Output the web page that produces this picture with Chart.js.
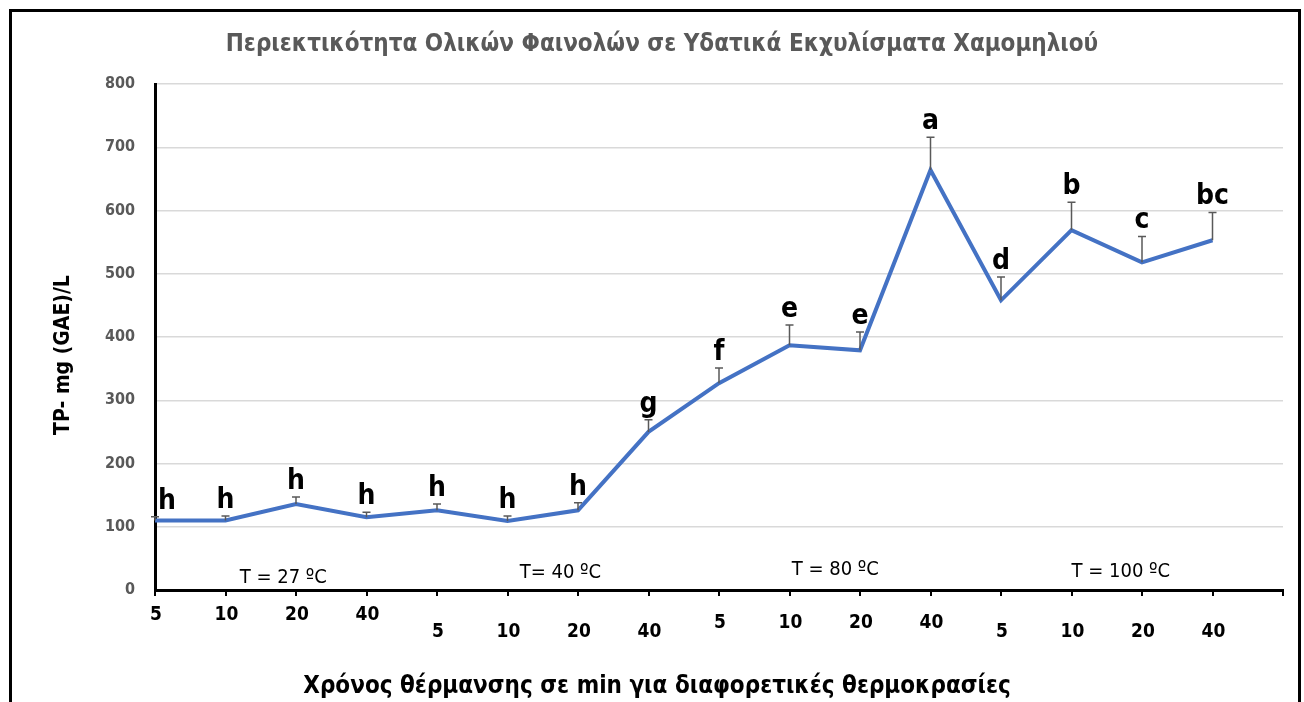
<!DOCTYPE html>
<html>
<head>
<meta charset="utf-8">
<script src="https://cdn.jsdelivr.net/npm/chart.js@4.4.1/dist/chart.umd.min.js"></script>
<style>
  html, body { margin: 0; padding: 0; background: #fff; }
</style>
</head>
<body>
<canvas id="grafico" width="1304" height="702"></canvas>
<script>
// --- Datos ---
const tiempos = ['5', '10', '20', '40', '5', '10', '20', '40', '5', '10', '20', '40', '5', '10', '20', '40', ''];
const fenoles = [110, 110, 136, 115, 126, 109, 126, 250, 327, 387, 379, 664, 458, 569, 518, 553];
const errores = [6, 7, 11, 8, 10, 8, 12, 19, 24, 32, 29, 52, 37, 44, 41, 44];
const letras = ['h', 'h', 'h', 'h', 'h', 'h', 'h', 'g', 'f', 'e', 'e', 'a', 'd', 'b', 'c', 'bc'];
const temperaturas = ['T = 27 ºC', 'T= 40 ºC', 'T = 80 ºC', 'T = 100 ºC'];
const temperaturasX = [1.82, 5.75, 9.65, 13.7];
const temperaturasY = [20, 27, 32, 29];
const ticksY = [0, 100, 200, 300, 400, 500, 600, 700, 800];

const titulo = 'Περιεκτικότητα Ολικών Φαινολών σε Υδατικά Εκχυλίσματα Χαμομηλιού';
const tituloX = 'Χρόνος θέρμανσης σε min για διαφορετικές θερμοκρασίες';
const tituloY = 'TP- mg (GAE)/L';

const fuente = "'DejaVu Sans Condensed', 'DejaVu Sans', sans-serif";
Chart.defaults.font.family = fuente;

// altura de cada grupo de etiquetas del eje X (escalonadas como en el original)
const alturaGrupo = [615, 632, 623, 632];

const extras = {
    id: 'extras',
    beforeDraw(chart) {
        const c = chart.ctx;
        c.save();
        c.fillStyle = '#fff';
        c.fillRect(0, 0, chart.width, chart.height);
        c.restore();
    },
    afterDatasetsDraw(chart) {
        const c = chart.ctx;
        const x = chart.scales.x;
        const y = chart.scales.y;
        c.save();

        // barras de error (solo hacia arriba)
        c.strokeStyle = '#595959';
        c.lineWidth = 1.5;
        fenoles.forEach((v, i) => {
            const px = x.getPixelForValue(i);
            const y0 = y.getPixelForValue(v);
            const y1 = y.getPixelForValue(v + errores[i]);
            c.beginPath();
            c.moveTo(px, y0);
            c.lineTo(px, y1);
            c.moveTo(px - 4, y1);
            c.lineTo(px + 4, y1);
            c.stroke();
        });

        // letras de significancia
        c.fillStyle = '#000';
        c.font = 'bold 28px ' + fuente;
        c.textAlign = 'center';
        c.textBaseline = 'alphabetic';
        letras.forEach((l, i) => {
            let px = x.getPixelForValue(i);
            if (i === 0) px += 12;
            const py = y.getPixelForValue(fenoles[i] + errores[i]) - 8;
            c.fillText(l, px, py);
        });

        // temperaturas
        c.font = '20px ' + fuente;
        c.textBaseline = 'middle';
        temperaturas.forEach((t, i) => {
            c.fillText(t, x.getPixelForValue(temperaturasX[i]), y.getPixelForValue(temperaturasY[i]));
        });

        // etiquetas del eje X
        c.font = 'bold 19px ' + fuente;
        tiempos.forEach((t, i) => {
            if (!t) return;
            c.fillText(t, x.getPixelForValue(i) + 1, alturaGrupo[Math.floor(i / 4)]);
        });

        // títulos
        c.font = 'bold 24px ' + fuente;
        c.fillText(tituloX, 657, 687);

        c.fillStyle = '#595959';
        c.font = 'bold 24px ' + fuente;
        c.fillText(titulo, 662, 45);

        c.fillStyle = '#000';
        c.font = 'bold 21px ' + fuente;
        c.translate(64, 355);
        c.rotate(-Math.PI / 2);
        c.fillText(tituloY, 0, 0);
        c.restore();

        // marco
        c.save();
        c.strokeStyle = '#000';
        c.lineWidth = 3;
        c.strokeRect(10.5, 10.5, 1289, 720);
        c.restore();
    }
};

new Chart(document.getElementById('grafico'), {
    type: 'line',
    data: {
        labels: tiempos,
        datasets: [{
            data: fenoles,
            borderColor: '#4472C4',
            borderWidth: 4,
            pointRadius: 0,
            tension: 0,
            fill: false
        }]
    },
    options: {
        responsive: false,
        animation: false,
        devicePixelRatio: 1,
        layout: { padding: { top: 84, right: 21, left: 0, bottom: 0 } },
        plugins: {
            legend: { display: false },
            tooltip: { enabled: false }
        },
        scales: {
            x: {
                offset: false,
                border: { color: '#000', width: 3 },
                grid: { drawOnChartArea: false, drawTicks: true, tickLength: 6, color: '#000', lineWidth: 2 },
                ticks: { display: false, autoSkip: false },
                afterFit(s) { s.height = 112; }
            },
            y: {
                min: 0,
                max: 800,
                afterBuildTicks(s) { s.ticks = ticksY.map(v => ({ value: v })); },
                border: { color: '#000', width: 3 },
                grid: { color: '#d9d9d9', lineWidth: 1.5, drawTicks: false },
                ticks: { color: '#595959', font: { size: 16, weight: 'bold' }, padding: 20 },
                afterFit(s) { s.width = 155; }
            }
        }
    },
    plugins: [extras]
});
</script>
</body>
</html>
